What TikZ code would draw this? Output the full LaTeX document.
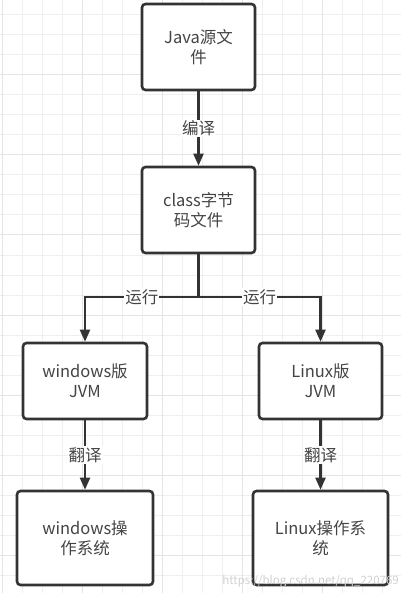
\documentclass[tikz,border=0pt]{standalone}
\usepackage{fontspec}
\setmainfont{Noto Sans CJK SC}
\usetikzlibrary{arrows.meta,calc,positioning}
\definecolor{inkgray}{HTML}{333333}
\definecolor{txtgray}{HTML}{444444}
\definecolor{gridgray}{HTML}{EFEFEF}
\definecolor{gridmajor}{HTML}{E4E4E4}
\tikzset{
  box/.style={draw=inkgray,line width=2.6pt,rounded corners=3.5pt,fill=white,
    align=center,text=txtgray,font=\fontsize{16.5}{20}\selectfont,inner sep=0pt},
  lbl/.style={fill=white,text=txtgray,font=\fontsize{16.5}{20}\selectfont,inner sep=1pt},
  flow/.style={->,draw=inkgray,line width=2.2pt}
}

\begin{document}
\begin{tikzpicture}[x=1pt,y=-1pt,>={Triangle[length=12pt,width=10pt]}]
\useasboundingbox (0,0) rectangle (401,593);
% background grid
\foreach \gx in {2,22,...,402} \draw[gridgray,line width=1pt] (\gx,0) -- (\gx,593);
\foreach \gy in {15,35,...,595} \draw[gridgray,line width=1pt] (0,\gy) -- (401,\gy);
\foreach \gx in {2,82,...,402} \draw[gridmajor,line width=1pt] (\gx,0) -- (\gx,593);
\foreach \gy in {-5,75,...,595} \draw[gridmajor,line width=1pt] (0,\gy) -- (401,\gy);
\node[box,minimum width=113pt,minimum height=86pt] (src) at (198.5,47) {Java源文\\件};
\node[box,minimum width=113pt,minimum height=86pt] (cls) at (198.5,210) {class字节\\码文件};
\node[box,minimum width=124pt,minimum height=76pt] (winjvm) at (85,381) {windows版\\JVM};
\node[box,minimum width=123pt,minimum height=76pt] (linjvm) at (320.5,381) {Linux版\\JVM};
\node[box,minimum width=136pt,minimum height=94pt] (winos) at (85,538) {windows操\\作系统};
\node[box,minimum width=135pt,minimum height=94pt] (linos) at (320.5,538) {Linux操作系\\统};
\coordinate (fork) at (198.5,297);
\draw[flow] (src) to node[lbl] {编译} (cls);
\draw[draw=inkgray,line width=2.2pt] (cls) -- (fork);
\draw[flow] (fork) -| node[lbl,pos=.25] {运行} (winjvm);
\draw[flow] (fork) -| node[lbl,pos=.25] {运行} (linjvm);
\draw[flow] (winjvm) to node[lbl] {翻译} (winos);
\draw[flow] (linjvm) to node[lbl] {翻译} (linos);
% watermark
\node[anchor=base east,text=black!18,font=\fontsize{11.5}{14}\selectfont,inner sep=0pt] (mark) at (399,584) {https://blog.csdn.net/qq\_220769};
\end{tikzpicture}
\end{document}
